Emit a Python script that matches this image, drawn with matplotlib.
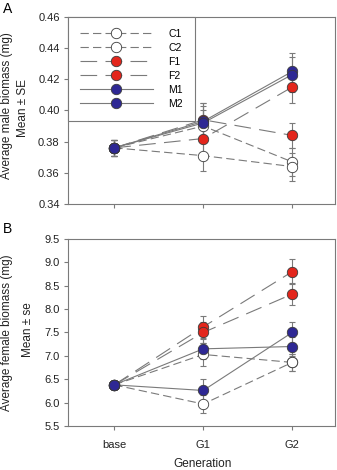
import matplotlib
matplotlib.use("Agg")
import matplotlib.pyplot as plt
from matplotlib.lines import Line2D

plt.rcParams['font.family'] = ['Liberation Sans', 'DejaVu Sans']
plt.rcParams['lines.scale_dashes'] = False

# Data
gens = ["base", "G1", "G2"]
series = ["C1", "C2", "F1", "F2", "M1", "M2"]

male_mean = {
    "C1": [0.376, 0.390, 0.367],
    "C2": [0.376, 0.371, 0.364],
    "F1": [0.376, 0.382, 0.415],
    "F2": [0.376, 0.394, 0.384],
    "M1": [0.376, 0.393, 0.425],
    "M2": [0.376, 0.392, 0.423],
}
male_se = {
    "C1": [0.005, 0.010, 0.009],
    "C2": [0.005, 0.010, 0.009],
    "F1": [0.005, 0.009, 0.010],
    "F2": [0.005, 0.011, 0.008],
    "M1": [0.005, 0.012, 0.012],
    "M2": [0.005, 0.011, 0.011],
}
female_mean = {
    "C1": [6.38, 7.03, 6.86],
    "C2": [6.38, 5.97, 6.86],
    "F1": [6.38, 7.62, 8.80],
    "F2": [6.38, 7.50, 8.32],
    "M1": [6.38, 7.15, 7.20],
    "M2": [6.38, 6.26, 7.50],
}
female_se = {
    "C1": [0.05, 0.25, 0.19],
    "C2": [0.05, 0.20, 0.18],
    "F1": [0.05, 0.23, 0.27],
    "F2": [0.05, 0.22, 0.23],
    "M1": [0.05, 0.22, 0.20],
    "M2": [0.05, 0.25, 0.22],
}

# styles per treatment
face = {"C": "white", "F": "#e3261c", "M": "#2e2894"}
dash = {"C": (0, (6, 3)), "F": (0, (12, 6)), "M": "-"}
grey = "#7a7a7a"
edge = "#3a3a3a"
txt = "#222222"
fs_tick = 8
fs_lab = 8.5


def draw_panel(ax, means, ses, ylim, yticks, fmt):
    x = list(range(len(gens)))
    for s in series:
        kind = s[0]
        ax.errorbar(x, means[s], yerr=ses[s], fmt="none", ecolor=grey,
                    elinewidth=0.8, capsize=2.5, capthick=0.8, zorder=2)
        ax.plot(x, means[s], color=grey, lw=0.8, linestyle=dash[kind], zorder=2)
    for s in series:
        kind = s[0]
        ax.plot(x, means[s], linestyle="none", marker="o", ms=7.5,
                mfc=face[kind], mec=edge, mew=0.6, zorder=3)
    ax.set_xlim(-0.52, 2.48)
    ax.set_ylim(*ylim)
    ax.set_yticks(yticks)
    ax.set_yticklabels([fmt.format(v) for v in yticks])
    ax.set_xticks(x)
    for sp in ax.spines.values():
        sp.set_color(grey)
        sp.set_linewidth(0.8)
    ax.tick_params(direction="out", length=3, width=0.8, color=grey,
                   labelsize=fs_tick, labelcolor=txt, pad=3)


fig = plt.figure(figsize=(3.37, 4.70), dpi=100)
axA = fig.add_axes([0.2018, 0.566, 0.792, 0.398])
axB = fig.add_axes([0.2018, 0.0936, 0.792, 0.398])

draw_panel(axA, male_mean, male_se, (0.34, 0.46),
           [0.34, 0.36, 0.38, 0.40, 0.42, 0.44, 0.46], "{:.2f}")
axA.set_xticklabels([])
draw_panel(axB, female_mean, female_se, (5.5, 9.5),
           [5.5, 6.0, 6.5, 7.0, 7.5, 8.0, 8.5, 9.0, 9.5], "{:.1f}")
axB.set_xticklabels(gens)
axB.tick_params(axis="x", pad=7)

# legend in panel A
handles = []
for s in series:
    kind = s[0]
    handles.append(Line2D([0], [0], color=grey, lw=0.8, linestyle=dash[kind],
                          marker="o", ms=7.5, mfc=face[kind], mec=edge, mew=0.6))
leg = axA.legend(handles, series, loc="upper left", bbox_to_anchor=(0, 1),
                 borderaxespad=0, fancybox=False, framealpha=1, numpoints=1,
                 fontsize=7.5, handlelength=7.0, handletextpad=1.45,
                 labelspacing=0.38, borderpad=1.15)
leg.get_frame().set_edgecolor(grey)
leg.get_frame().set_linewidth(0.8)
leg.set_zorder(5)

# axis labels
fig.text(7 / 337, 1 - 106 / 470, "Average male biomass (mg)", rotation=90,
         ha="center", va="center", fontsize=fs_lab, color=txt)
fig.text(23 / 337, 1 - 108 / 470, "Mean \u00b1 SE", rotation=90,
         ha="center", va="center", fontsize=fs_lab, color=txt)
fig.text(7 / 337, 1 - 333 / 470, "Average female biomass (mg)", rotation=90,
         ha="center", va="center", fontsize=fs_lab, color=txt)
fig.text(28 / 337, 1 - 330 / 470, "Mean \u00b1 se", rotation=90,
         ha="center", va="center", fontsize=fs_lab, color=txt)
fig.text(203 / 337, 1 - 464 / 470, "Generation", ha="center", va="center",
         fontsize=fs_lab, color=txt)
fig.text(8 / 337, 1 - 9 / 470, "A", ha="center", va="center", fontsize=10)
fig.text(8 / 337, 1 - 229 / 470, "B", ha="center", va="center", fontsize=10)

fig.savefig("out.png", dpi=100)
